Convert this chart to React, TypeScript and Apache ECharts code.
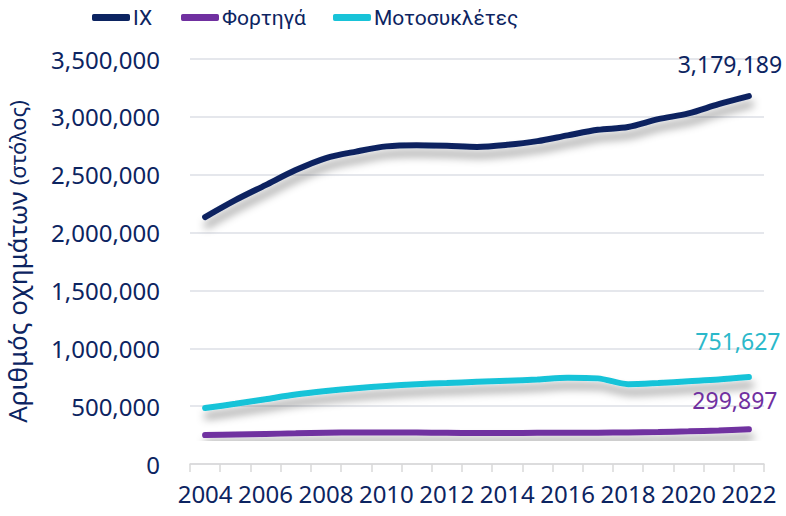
import React, { useEffect, useRef } from "react";
import * as echarts from "echarts";

const years = ["2004","2005","2006","2007","2008","2009","2010","2011","2012","2013","2014","2015","2016","2017","2018","2019","2020","2021","2022"];
const ixValues = [2134000,2280000,2410000,2540000,2644000,2700000,2745000,2755000,2750000,2740000,2758000,2790000,2840000,2888000,2912000,2980000,3030000,3110000,3179189];
const trucksValues = [250000,255000,260000,265000,270000,272000,273000,272000,270000,268000,268000,269000,270000,271000,272000,276000,282000,290000,299897];
const motoValues = [484000,520000,560000,600000,630000,655000,675000,690000,700000,710000,720000,730000,745000,740000,690000,700000,715000,730000,751627];
const seriesNames = ["ΙΧ", "Φορτηγά", "Μοτοσυκλέτες"];
const legendLefts = [87, 176, 328];

const NAVY = "#0c2461";
const PURPLE = "#7030a0";
const CYAN = "#18c3d8";
const FONT = "'Noto Sans', 'Open Sans', sans-serif";
const NARROW = "Roboto, 'Noto Sans', sans-serif";

function withEndLabel(values: number[], color: string, offset: number[]) {
  return values.map((v, i) =>
    i === values.length - 1
      ? {
          value: v,
          label: {
            show: true,
            position: "top",
            offset,
            color,
            fontSize: 23,
            fontFamily: FONT,
            formatter: (p: any) => Number(p.value).toLocaleString("en-US"),
          },
        }
      : v
  );
}

export default function App() {
  const ref = useRef<HTMLDivElement>(null);
  useEffect(() => {
    document.body.style.margin = "0";
    const chart = echarts.init(ref.current!, undefined, { renderer: "svg" });
    const shadow = {
      shadowColor: "rgba(0,0,0,0.38)",
      shadowBlur: 9,
      shadowOffsetY: 8,
      shadowOffsetX: 2,
    };
    const mk = (name: string, data: any[], color: string) => ({
      name,
      type: "line",
      data,
      smooth: 0.3,
      showSymbol: true,
      symbol: "circle",
      symbolSize: 0,
      color,
      itemStyle: { color },
      lineStyle: { width: 6, color, cap: "round", ...shadow },
    });
    chart.setOption({
      animation: false,
      textStyle: { fontFamily: FONT },
      legend: seriesNames.map((n, i) => ({
        top: 2,
        left: legendLefts[i],
        icon: "roundRect",
        itemWidth: 38,
        itemHeight: 7,
        textStyle: { color: NAVY, fontSize: 21, fontFamily: NARROW, padding: [0, 0, 0, -2] },
        data: [n],
      })),
      grid: { left: 190, right: 22, top: 59, bottom: 52, containLabel: false, outerBoundsMode: "none" },
      xAxis: {
        type: "category",
        data: years,
        boundaryGap: true,
        axisLine: { lineStyle: { color: "#d9d9d9", width: 1.5 } },
        axisTick: { show: true, interval: 0, length: 8, lineStyle: { color: "#d9d9d9", width: 1.5 } },
        axisLabel: {
          interval: 1,
          showMinLabel: true,
          showMaxLabel: true,
          hideOverlap: false,
          color: NAVY,
          fontSize: 24,
          fontFamily: FONT,
          margin: 17,
        },
        splitLine: { show: false },
      },
      yAxis: {
        type: "value",
        min: 0,
        max: 3500000,
        interval: 500000,
        axisLine: { show: false },
        axisTick: { show: false },
        axisLabel: {
          color: NAVY,
          fontSize: 24,
          fontFamily: FONT,
          margin: 30,
          formatter: (v: number) => v.toLocaleString("en-US"),
        },
        splitLine: { lineStyle: { color: "#dcdfe6", width: 1.5 } },
        name: "{a|Αριθμός οχημάτων}  {b|(στόλος)}",
        nameLocation: "middle",
        nameGap: 160,
        nameRotate: 90,
        nameTextStyle: {
          color: NAVY,
          rich: {
            a: { fontSize: 26, lineHeight: 26, color: NAVY, fontFamily: FONT },
            b: { fontSize: 22, lineHeight: 26, color: NAVY, fontFamily: FONT },
          },
        },
      },
      series: [
        mk(seriesNames[0], withEndLabel(ixValues, NAVY, [-19, -16]), NAVY),
        mk(seriesNames[1], withEndLabel(trucksValues, PURPLE, [-14, -13]), PURPLE),
        mk(seriesNames[2], withEndLabel(motoValues, "#2bb8ca", [-11, -20]), CYAN),
      ],
    });
    return () => chart.dispose();
  }, []);
  return <div ref={ref} style={{ width: 786, height: 516 }} />;
}
